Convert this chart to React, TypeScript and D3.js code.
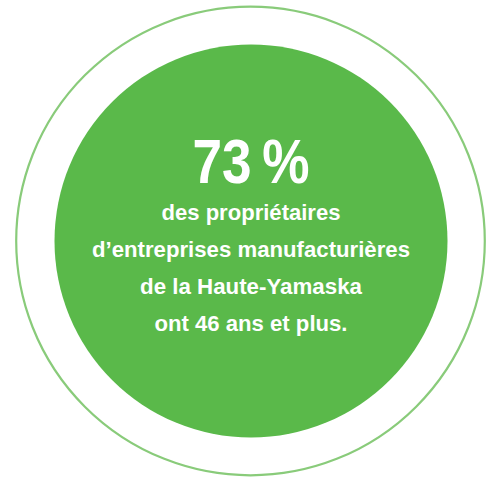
import React from "react";
import * as d3 from "d3";

const headline = ["73\u2009%"];
const bodyLines = [
  "des propriétaires",
  "d’entreprises manufacturières",
  "de la Haute-Yamaska",
  "ont 46 ans et plus.",
];
const bodyWidths = [179, 318, 222, 193];

const W = 486;
const H = 477;

export default function App() {
  const cx = 251;
  const cy = 241;
  const baseline = d3.scaleLinear().domain([0, 1]).range([220, 257]);
  const font = "'Liberation Sans Narrow', 'Arial Narrow', 'Liberation Sans', Arial, sans-serif";
  return (
    <svg
      width={W}
      height={H}
      style={{ position: "absolute", left: 0, top: 0, background: "#fff" }}
    >
      <circle cx={250.5} cy={241} r={234.3} fill="none" stroke="#89cb7a" strokeWidth={2.2} />
      <circle cx={cx} cy={cy} r={196.5} fill="#5ab94a" />
      <text
        x={cx}
        y={183}
        textAnchor="middle"
        fill="#fff"
        fontFamily={font}
        fontWeight="bold"
        fontSize={63}
        textLength={117}
        lengthAdjust="spacingAndGlyphs"
      >
        {headline[0]}
      </text>
      {bodyLines.map((t, i) => (
        <text
          key={i}
          x={cx}
          y={baseline(i)}
          textAnchor="middle"
          fill="#fff"
          fontFamily={font}
          fontWeight="bold"
          fontSize={22.5}
          textLength={bodyWidths[i]}
          lengthAdjust="spacingAndGlyphs"
        >
          {t}
        </text>
      ))}
    </svg>
  );
}
